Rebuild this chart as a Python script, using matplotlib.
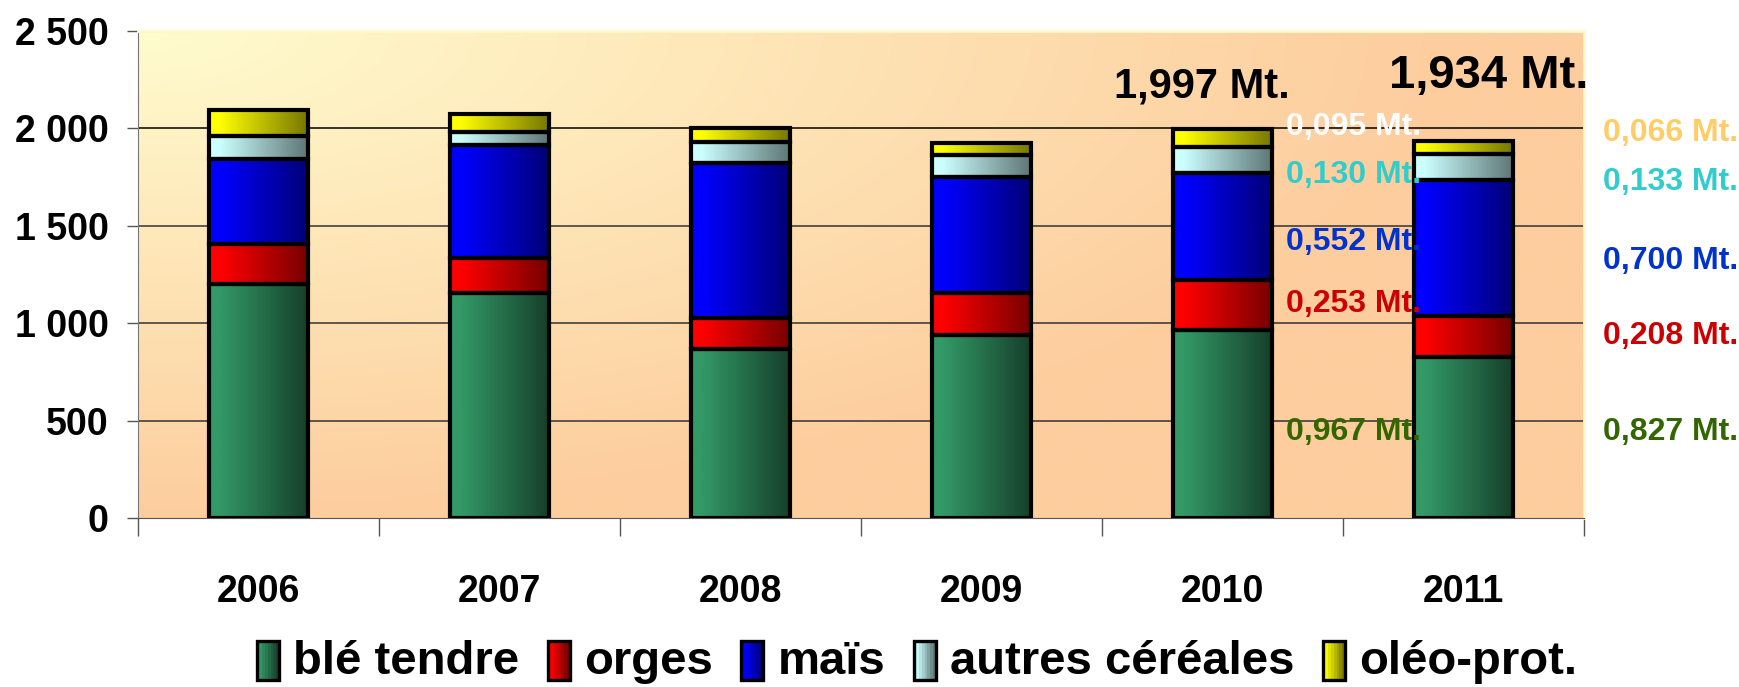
import numpy as np
import matplotlib
matplotlib.use("Agg")
import matplotlib.pyplot as plt
from matplotlib import font_manager
from matplotlib.colors import to_rgb
from matplotlib.legend_handler import HandlerBase
from matplotlib.patches import Rectangle

years = ["2006", "2007", "2008", "2009", "2010", "2011"]
series = ["blé tendre", "orges", "maïs", "autres céréales", "oléo-prot."]
ble = [1200, 1157, 868, 937, 967, 827]
orges = [205, 179, 157, 220, 253, 208]
mais = [440, 581, 795, 595, 552, 700]
autres = [115, 66, 110, 111, 130, 133]
oleo = [135, 91, 70, 64, 95, 66]
yticks = [0, 500, 1000, 1500, 2000, 2500]
ytick_labels = ["0", "500", "1 000", "1 500", "2 000", "2 500"]

totals_text = ["1,997 Mt.", "1,934 Mt."]
labels_2010 = ["0,095 Mt.", "0,130 Mt.", "0,552 Mt.", "0,253 Mt.", "0,967 Mt."]
labels_2011 = ["0,066 Mt.", "0,133 Mt.", "0,700 Mt.", "0,208 Mt.", "0,827 Mt."]

# gradient colours (left, right) per series
grad = [("#339966", "#16402b"), ("#ff0000", "#780000"), ("#0000ff", "#000078"),
        ("#ccffff", "#5f7777"), ("#ffff00", "#787800")]
label_colors = [["#ffffff", "#33cccc", "#0033cc", "#cc0000", "#336600"],
                ["#ffcc66", "#33cccc", "#0033cc", "#cc0000", "#336600"]]

plt.rcParams["font.family"] = ["Liberation Sans", "DejaVu Sans"]
names = {f.name for f in font_manager.fontManager.ttflist}
if "Liberation Sans Narrow" in names:
    tick_font, tick_size = "Liberation Sans Narrow", 32
else:
    tick_font, tick_size = "Liberation Sans", 27


def gradient(c1, c2, n=64):
    a = np.array(to_rgb(c1))
    b = np.array(to_rgb(c2))
    t = np.clip((np.linspace(0, 1, n) - 0.1) / 0.9, 0, 1)[:, None]
    return (a + (b - a) * t)[None, :, :]


class GradHandler(HandlerBase):
    def __init__(self, c1, c2):
        super().__init__()
        self.c1, self.c2 = c1, c2

    def create_artists(self, legend, orig, xd, yd, w, h, fontsize, trans):
        arts = []
        n = 8
        g = gradient(self.c1, self.c2, n)[0]
        y0 = yd - h * 0.15
        hh = h * 1.3
        for k in range(n):
            arts.append(Rectangle((xd + w * k / n, y0), w / n + 0.3, hh,
                                  facecolor=g[k], edgecolor="none", transform=trans))
        arts.append(Rectangle((xd, y0), w, hh, facecolor="none", edgecolor="black",
                              lw=2.4, transform=trans))
        return arts


fig = plt.figure(figsize=(17.4, 6.87), dpi=100)
ax = fig.add_axes([0.0793, 0.246, 0.8310, 0.709])

# background of plot area
gx, gy = np.meshgrid(np.linspace(0, 1, 300), np.linspace(1, 0, 200))
t = np.clip(np.sqrt((gx * 1.1) ** 2 + (1 - gy) ** 2), 0, 1)[..., None]
top = np.array([255, 252, 206]) / 255
bot = np.array([253, 205, 158]) / 255
ax.imshow(top + (bot - top) * t, extent=(0, 1, 0, 1), transform=ax.transAxes,
          aspect="auto", zorder=0)

for yv in yticks[1:-1]:
    ax.axhline(yv, color="#333333" if yv != 2000 else "black", lw=1.1, zorder=1)

x = np.arange(len(years))
bottom = np.zeros(len(years))
for vals, (c1, c2) in zip([ble, orges, mais, autres, oleo], grad):
    bars = ax.bar(x, vals, 0.41, bottom=bottom, color="none", edgecolor="black",
                  linewidth=3, zorder=3)
    for r in bars:
        ax.imshow(gradient(c1, c2), extent=(r.get_x(), r.get_x() + r.get_width(),
                  r.get_y(), r.get_y() + r.get_height()), aspect="auto", zorder=2)
    bottom += np.array(vals)

ax.set_xlim(-0.5, 5.5)
ax.set_ylim(0, 2500)

# axes styling
for s in ["top", "right"]:
    ax.spines[s].set_color("#fff8c8")
    ax.spines[s].set_linewidth(2)
ax.spines["left"].set_color("#777777")
ax.spines["bottom"].set_color("#555555")
ax.set_yticks(yticks)
ax.set_yticklabels(ytick_labels, fontsize=tick_size, fontweight="bold", family=tick_font)
ax.tick_params(axis="y", length=8, width=1, color="#555555", pad=13)
ax.set_xticks(np.arange(-0.5, 6, 1))
ax.set_xticklabels([])
ax.set_xticks(x, minor=True)
ax.set_xticklabels(years, minor=True, fontsize=tick_size, fontweight="bold", family=tick_font)
ax.tick_params(axis="x", which="major", length=13, width=1, color="#555555")
ax.tick_params(axis="x", which="minor", length=0, pad=40)

# value labels
ax.text(3.55, 2215, totals_text[0], fontsize=30, fontweight="bold", va="center", zorder=5)
ax.text(4.69, 2267, totals_text[1], fontsize=34, fontweight="bold", va="center", zorder=5)
ys_2010 = [2005, 1759, 1415, 1097, 441]
ys_2011 = [1974, 1723, 1318, 933, 441]
for lab, yv, c in zip(labels_2010, ys_2010, label_colors[0]):
    ax.text(4.265, yv, lab, fontsize=23, fontweight="bold", color=c, va="center", zorder=5)
for lab, yv, c in zip(labels_2011, ys_2011, label_colors[1]):
    ax.text(5.58, yv, lab, fontsize=23, fontweight="bold", color=c, va="center",
            zorder=5, clip_on=False)

handles = [Rectangle((0, 0), 1, 1) for _ in series]
fig.legend(handles, series, handler_map={h: GradHandler(*g) for h, g in zip(handles, grad)},
           loc="center", bbox_to_anchor=(0.527, 0.037), ncol=5, frameon=False,
           prop={"size": 34, "weight": "bold"}, handlelength=0.47, handleheight=0.6,
           handletextpad=0.3, columnspacing=0.6, borderaxespad=0)

fig.savefig("out.png", dpi=100)
